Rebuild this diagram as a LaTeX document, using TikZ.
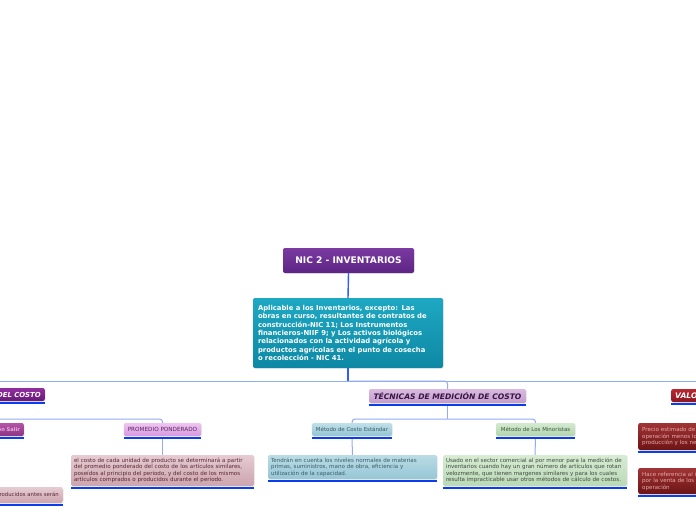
\documentclass[tikz,border=0pt]{standalone}
\usepackage{fontspec}
\setmainfont{DejaVu Sans}
\usetikzlibrary{shadows}
\definecolor{barblue}{HTML}{0A3CF0}
\definecolor{mainline}{HTML}{2F5BFF}
\definecolor{subline}{HTML}{93ABF5}
\tikzset{
  box/.style={rounded corners=2pt, inner xsep=4pt, inner ysep=2pt, align=left,
    drop shadow={opacity=0.18, shadow xshift=0.7pt, shadow yshift=-0.7pt}},
  mainconn/.style={draw=mainline, line width=1.4pt},
  subconn/.style={draw=subline, line width=1pt, rounded corners=3pt},
  bar/.style={fill=barblue},
  small/.style={font=\fontsize{5.55}{6.5}\selectfont},
}
\begin{document}
\begin{tikzpicture}[x=1pt,y=-1pt]
\useasboundingbox (0,0) rectangle (696,520);
\clip (0,0) rectangle (696,520);
\fill[white] (0,0) rectangle (696,520);

\coordinate (hub) at (348,381);
\coordinate (farL) at (-80,381);
\coordinate (farR) at (780,381);
\coordinate (brL) at (-80,419);
\coordinate (brT) at (447.5,419);

% nodes
\node[box, minimum width=131pt, minimum height=25pt, top color={rgb,255:red,122;green,58;blue,160}, bottom color={rgb,255:red,92;green,36;blue,132}, text=white, font=\fontsize{9.1}{10}\selectfont\bfseries] (title) at (348.5,260.5) {NIC 2 - INVENTARIOS};

\node[box, minimum width=190pt, minimum height=70pt, text width=180pt, inner xsep=5pt, top color={rgb,255:red,30;green,168;blue,195}, bottom color={rgb,255:red,14;green,136;blue,164}, text=white, font=\fontsize{6.85}{8.3}\selectfont\bfseries] (teal) at (348,333) {Aplicable a los Inventarios, excepto: Las\\ obras en curso, resultantes de contratos de\\ construcción-NIC 11; Los Instrumentos\\ financieros-NIIF 9; y Los activos biológicos\\ relacionados con la actividad agrícola y\\ productos agrícolas en el punto de cosecha\\ o recolección - NIC 41.};

\node[box, minimum width=157pt, minimum height=14pt, top color={rgb,255:red,218;green,186;blue,224}, bottom color={rgb,255:red,196;green,156;blue,205}, text={rgb,255:red,52;green,22;blue,66}, font=\fontsize{7.6}{8}\selectfont\bfseries\itshape] (tec) at (447.5,396) {TÉCNICAS DE MEDICIÓN DE COSTO};

\node[box, anchor=east, minimum height=13pt, top color={rgb,255:red,146;green,46;blue,160}, bottom color={rgb,255:red,104;green,24;blue,122}, text=white, font=\fontsize{6.9}{8}\selectfont\bfseries\itshape] (delcosto) at (45,394.5) {FÓRMULAS DE CÁLCULO DEL COSTO};

\node[box, anchor=east, minimum height=13pt, top color={rgb,255:red,180;green,84;blue,168}, bottom color={rgb,255:red,140;green,52;blue,132}, text={rgb,255:red,232;green,178;blue,222}, font=\fontsize{5.1}{6.5}\selectfont\bfseries] (peps) at (24,429.5) {Primeras en Entrar Primeras en Salir};

\node[box, minimum width=75pt, minimum height=13pt, top color={rgb,255:red,240;green,196;blue,242}, bottom color={rgb,255:red,214;green,152;blue,222}, text={rgb,255:red,90;green,42;blue,96}, font=\fontsize{5.7}{6.5}\selectfont] (pp) at (162.5,429.5) {PROMEDIO PONDERADO};

\node[box, small, minimum width=183pt, minimum height=31pt, text width=177pt, inner xsep=3pt, top color={rgb,255:red,230;green,204;blue,210}, bottom color={rgb,255:red,204;green,164;blue,174}, text={rgb,255:red,88;green,40;blue,52}] (ppdesc) at (162.5,470.5) {el costo de cada unidad de producto se determinará a partir\\ del promedio ponderado del costo de los artículos similares,\\ poseídos al principio del periodo, y del costo de los mismos\\ artículos comprados o producidos durante el periodo.};

\node[box, anchor=east, minimum height=16pt, top color={rgb,255:red,230;green,204;blue,210}, bottom color={rgb,255:red,204;green,164;blue,174}, text={rgb,255:red,88;green,40;blue,52}, font=\fontsize{5.35}{6.5}\selectfont] (pepsdesc) at (63,495) {Supone que los productos comprados o producidos antes serán};

\node[box, minimum width=80pt, minimum height=13pt, top color={rgb,255:red,190;green,224;blue,234}, bottom color={rgb,255:red,148;green,196;blue,210}, text={rgb,255:red,60;green,92;blue,106}, font=\fontsize{5.45}{6.5}\selectfont] (mce) at (352,429.5) {Método de Costo Estándar};

\node[box, small, minimum width=169pt, minimum height=24pt, text width=163pt, inner xsep=3pt, top color={rgb,255:red,186;green,220;blue,230}, bottom color={rgb,255:red,150;green,198;blue,212}, text={rgb,255:red,60;green,92;blue,106}] (mcedesc) at (352.5,467) {Tendrán en cuenta los niveles normales de materias\\ primas, suministros, mano de obra, eficiencia y\\ utilización de la capacidad.};

\node[box, minimum width=79pt, minimum height=13pt, top color={rgb,255:red,212;green,234;blue,208}, bottom color={rgb,255:red,178;green,212;blue,174}, text={rgb,255:red,60;green,88;blue,60}, font=\fontsize{5.45}{6.5}\selectfont] (mlm) at (535.5,429.5) {Método de Los Minoristas};

\node[box, small, minimum width=184pt, minimum height=31pt, text width=178pt, inner xsep=3pt, top color={rgb,255:red,216;green,236;blue,212}, bottom color={rgb,255:red,186;green,216;blue,182}, text={rgb,255:red,62;green,76;blue,62}] (mlmdesc) at (535,470.5) {Usado en el sector comercial al por menor para la medición de\\ inventarios cuando hay un gran número de artículos que rotan\\ velozmente, que tienen margenes similares y para los cuales\\ resulta impracticable usar otros métodos de cálculo de costos.};

\node[box, anchor=west, minimum height=13pt, top color={rgb,255:red,184;green,40;blue,50}, bottom color={rgb,255:red,140;green,22;blue,32}, text=white, font=\fontsize{7.6}{8}\selectfont\bfseries\itshape] (valo) at (671,395.5) {VALOR NETO REALIZABLE};

\node[box, small, anchor=west, minimum height=27pt, text width=178pt, top color={rgb,255:red,160;green,52;blue,52}, bottom color={rgb,255:red,108;green,20;blue,22}, text={rgb,255:red,234;green,168;blue,168}] (vnr1) at (638,436.5) {Precio estimado de venta de un activo en el curso normal de la\\ operación menos los costos estimados para terminar su\\ producción y los necesarios para llevar a cabo la venta.};

\node[box, small, anchor=west, minimum height=26pt, text width=178pt, top color={rgb,255:red,160;green,52;blue,52}, bottom color={rgb,255:red,108;green,20;blue,22}, text={rgb,255:red,234;green,168;blue,168}] (vnr2) at (638,481) {Hace referencia al importe neto que la entidad espera obtener\\ por la venta de los inventarios en el curso normal de la\\ operación};

% bars under boxes
\foreach \n in {tec,delcosto,peps,pp,ppdesc,pepsdesc,mce,mcedesc,mlm,mlmdesc,valo,vnr1,vnr2}
  \fill[bar] ([yshift=-0.3pt]\n.south west) rectangle ([yshift=-2.8pt]\n.south east);

% connectors
\draw[mainconn] (title.south) -- (teal.north);
\draw[mainconn] (teal.south) -- (hub);
\draw[subconn] (farL) -- (farR);
\draw[subconn] (hub) -| (tec.north);
\draw[subconn] (brL) -| (pp.north);
\draw[subconn] ([yshift=-2.8pt]tec.south) -- (brT);
\draw[subconn] (brT) -| (mce.north);
\draw[subconn] (brT) -| (mlm.north);
\draw[subconn] ([yshift=-2.8pt]pp.south) -- (ppdesc.north);
\draw[subconn] ([yshift=-2.8pt]mce.south) -- (mcedesc.north);
\draw[subconn] ([yshift=-2.8pt]mlm.south) -- (mlmdesc.north);
\end{tikzpicture}
\end{document}
